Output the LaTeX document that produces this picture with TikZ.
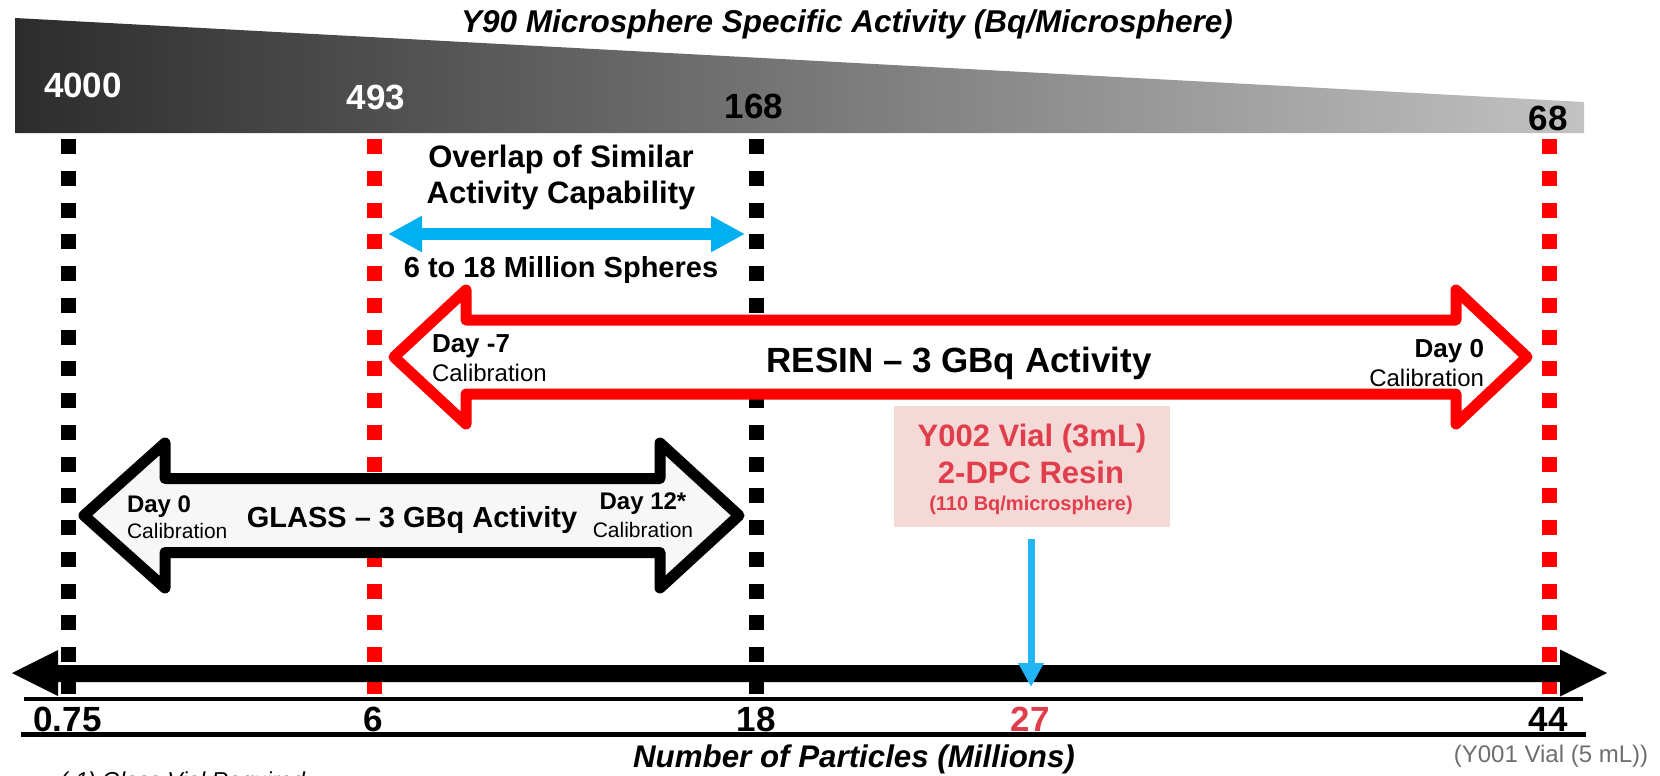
\documentclass[tikz,border=0pt]{standalone}
\usepackage{fontspec}
\setmainfont{Liberation Sans}
\usetikzlibrary{arrows.meta}
\definecolor{resred}{HTML}{FF0000}
\definecolor{ovblue}{HTML}{00B0F0}
\definecolor{dnblue}{HTML}{22B5F5}
\definecolor{pinkfill}{HTML}{F4D9D6}
\definecolor{pinktext}{HTML}{E03E4C}
\definecolor{barL}{HTML}{2C2C2C}
\definecolor{barR}{HTML}{C2C2C2}
\definecolor{glassfill}{HTML}{F7F7F7}
\definecolor{greytext}{HTML}{6E6E6E}
\newcommand{\setfs}[1]{\fontsize{#1}{#1}\selectfont}
\begin{document}
\begin{tikzpicture}[x=1pt,y=-1pt,
  txt/.style={inner sep=0pt, outer sep=0pt},
  vdots/.style={line width=15pt, dash pattern=on 15pt off 16.75pt},
  bigarrow/.style={line width=11pt, line join=round},
  ovarrow/.style={ovblue, line width=12pt, {Triangle[length=34pt,width=34pt]}-{Triangle[length=34pt,width=34pt]}},
  dnarrow/.style={dnblue, line width=7pt, -{Triangle[length=24pt,width=24pt]}},
  axlab/.style={txt, anchor=base, font=\setfs{35}\bfseries},
  barlab/.style={txt, anchor=base, font=\setfs{35}\bfseries},
  daylab/.style={txt, font=\setfs{26}\bfseries},
  callab/.style={txt, font=\setfs{24}},
  gdaylab/.style={txt, font=\setfs{24}\bfseries},
  gcallab/.style={txt, font=\setfs{21}},
  pinktxt/.style={txt, anchor=base, text=pinktext, font=\setfs{31}\bfseries}
]
\useasboundingbox (0,0) rectangle (1660,776);

% gradient bar
\shade[left color=barL, right color=barR] (15,18) -- (1584,102) -- (1584,133) -- (15,133) -- cycle;

% title
\node[txt, anchor=base, font=\setfs{31.5}\bfseries\itshape] (title) at (847,33) {Y90 Microsphere Specific Activity (Bq/Microsphere)};

% bar labels
\node[barlab, text=white] (b4000) at (83,97) {4000};
\node[barlab, text=white] (b493) at (376,110) {493};
\node[barlab] (b168) at (754,118) {168};
\node[barlab] (b68) at (1548,130) {68};

% dotted vertical lines
\draw[vdots, black] (68,139) -- (68,694);
\draw[vdots, resred] (374,139) -- (374,694);
\draw[vdots, black] (756,139) -- (756,694);
\draw[vdots, resred] (1549,139) -- (1549,694);

% axis
\fill[black] (12,673) -- (58,650) -- (58,665) -- (1560,665) -- (1560,649.5) -- (1607,673) -- (1560,696.5) -- (1560,682) -- (58,682) -- (58,696) -- cycle;
\draw[line width=4pt] (24,699) -- (1583,699);
\draw[line width=4.5pt] (21,734.5) -- (1586,734.5);

% axis labels
\node[axlab] (l075) at (67.5,731) {0.75};
\node[axlab] (l6) at (373,731) {6};
\node[axlab] (l18) at (756,731) {18};
\node[axlab, text=pinktext] (l27) at (1030,731) {27};
\node[axlab] (l44) at (1548,731) {44};
\node[txt, anchor=base, font=\setfs{31.3}\bfseries\itshape] (xlabel) at (854,767) {Number of Particles (Millions)};
\node[txt, anchor=base, text=greytext, font=\setfs{24}] (y001) at (1551,762) {(Y001 Vial (5 mL))};
\node[txt, anchor=base west, font=\setfs{23}\itshape] (note) at (60,788) {(-1) Glass Vial Required};

% overlap
\node[txt, anchor=base, font=\setfs{31}\bfseries] (ov1) at (561,167) {Overlap of Similar};
\node[txt, anchor=base, font=\setfs{31}\bfseries] (ov2) at (561,203) {Activity Capability};
\coordinate (ovL) at (388,234);
\coordinate (ovR) at (745,234);
\draw[ovarrow] (ovL) -- (ovR);
\node[txt, anchor=base, font=\setfs{29}\bfseries] (ov3) at (561,277) {6 to 18 Million Spheres};

% RESIN arrow
\filldraw[bigarrow, draw=resred, fill=white] (394,357) -- (466,290) -- (466,320) -- (1456,320) -- (1456,290) -- (1527,357) -- (1456,424) -- (1456,394) -- (466,394) -- (466,424) -- cycle;
\node[daylab, anchor=base west] (rday7) at (432,352) {Day -7};
\node[callab, anchor=base west] (rcal1) at (432,381) {Calibration};
\node[txt, anchor=base, font=\setfs{35}\bfseries] (resin) at (959,372) {RESIN – 3 GBq Activity};
\node[daylab, anchor=base east] (rday0) at (1484,357) {Day 0};
\node[callab, anchor=base east] (rcal2) at (1484,386) {Calibration};

% GLASS arrow
\filldraw[bigarrow, draw=black, fill=glassfill] (84,515.5) -- (165,443) -- (165,478.5) -- (660,478.5) -- (660,443) -- (739,515.5) -- (660,588) -- (660,552.5) -- (165,552.5) -- (165,588) -- cycle;
\node[gdaylab, anchor=base west] (gday0) at (127,512) {Day 0};
\node[gcallab, anchor=base west] (gcal1) at (127,538) {Calibration};
\node[txt, anchor=base, font=\setfs{29}\bfseries] (glass) at (412,527) {GLASS – 3 GBq Activity};
\node[gdaylab, anchor=base] (gday12) at (643,509) {Day 12*};
\node[gcallab, anchor=base] (gcal2) at (643,537) {Calibration};

% pink box
\node[fill=pinkfill, minimum width=276pt, minimum height=121pt, inner sep=0pt] (vial) at (1032,466.5) {};
\node[pinktxt] (v1) at (1032,446) {Y002 Vial (3mL)};
\node[pinktxt] (v2) at (1031,483) {2-DPC Resin};
\node[pinktxt, font=\setfs{20}\bfseries] (v3) at (1031,510) {(110 Bq/microsphere)};
\coordinate (ax27) at (1031,687);
\draw[dnarrow, shorten <=12pt] (vial.south -| ax27) -- (ax27);
\end{tikzpicture}
\end{document}
